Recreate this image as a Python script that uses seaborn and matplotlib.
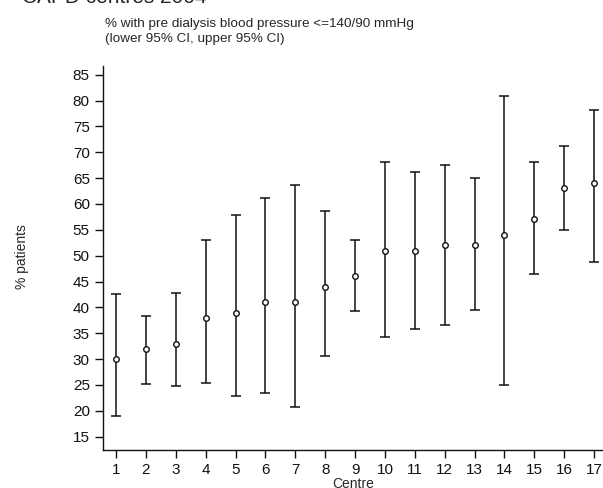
import seaborn as sns
import matplotlib.pyplot as plt
import pandas as pd

# =============================================================================
# Data
centres = list(range(1, 18))
pct     = [30, 32, 33, 38, 39, 41, 41, 44, 46, 51, 51, 52, 52, 54, 57, 63, 64]
lower   = [18.9, 25.2, 24.8, 25.3, 22.9, 23.5, 20.7, 30.5, 39.2, 34.3, 35.8,
           36.6, 39.4, 25.0, 46.4, 55.0, 48.8]
upper   = [42.5, 38.4, 42.7, 53.0, 57.9, 61.1, 63.7, 58.7, 53.1, 68.1, 66.2,
           67.5, 65.1, 80.9, 68.1, 71.3, 78.2]
ytick_vals = list(range(15, 90, 5))

df = pd.DataFrame({'Centre': centres, 'pct': pct, 'lo': lower, 'hi': upper})

# =============================================================================
sns.set_style('ticks')
plt.rcParams['font.family'] = ['Liberation Sans', 'DejaVu Sans']

fig = plt.figure(figsize=(6.03, 4.88), dpi=100)
ax = fig.add_axes([103/603, 1-450/488, 1-103/603, (450-66)/488])

yerr = [df['pct'] - df['lo'], df['hi'] - df['pct']]
ax.errorbar(df['Centre'], df['pct'], yerr=yerr, fmt='none', ecolor='#111111',
            elinewidth=1.1, capsize=3.3, capthick=1.1, zorder=2)
sns.scatterplot(x='Centre', y='pct', data=df, ax=ax, marker='o', s=16,
                facecolor='white', edgecolor='#111111', linewidth=1.0, zorder=3)

ax.set_xlim(0.565, 17.3)
ax.set_ylim(12.4, 86.7)
ax.set_xticks(centres)
ax.set_yticks(ytick_vals)
ax.tick_params(axis='both', length=6, width=1.0, labelsize=11, colors='#111111')
for s in ['top', 'right']:
    ax.spines[s].set_visible(False)
for s in ['left', 'bottom']:
    ax.spines[s].set_linewidth(1.0)
    ax.spines[s].set_color('#111111')

ax.set_xlabel('Centre', fontsize=10, labelpad=0)
ax.set_ylabel('')

fig.text(22/603, 1-257/488, '% patients', rotation=90, fontsize=10,
         ha='center', va='center')
fig.text(105/603, 1-24/488, '% with pre dialysis blood pressure <=140/90 mmHg',
         fontsize=9.7, ha='left', va='center')
fig.text(105/603, 1-39/488, '(lower 95% CI, upper 95% CI)',
         fontsize=9.7, ha='left', va='center')
# main title sits mostly above the top edge, as in the original
fig.text(22/603, 1-3/488, 'CAPD centres 2004', fontsize=15,
         ha='left', va='baseline')

fig.savefig('out.png', dpi=100)
